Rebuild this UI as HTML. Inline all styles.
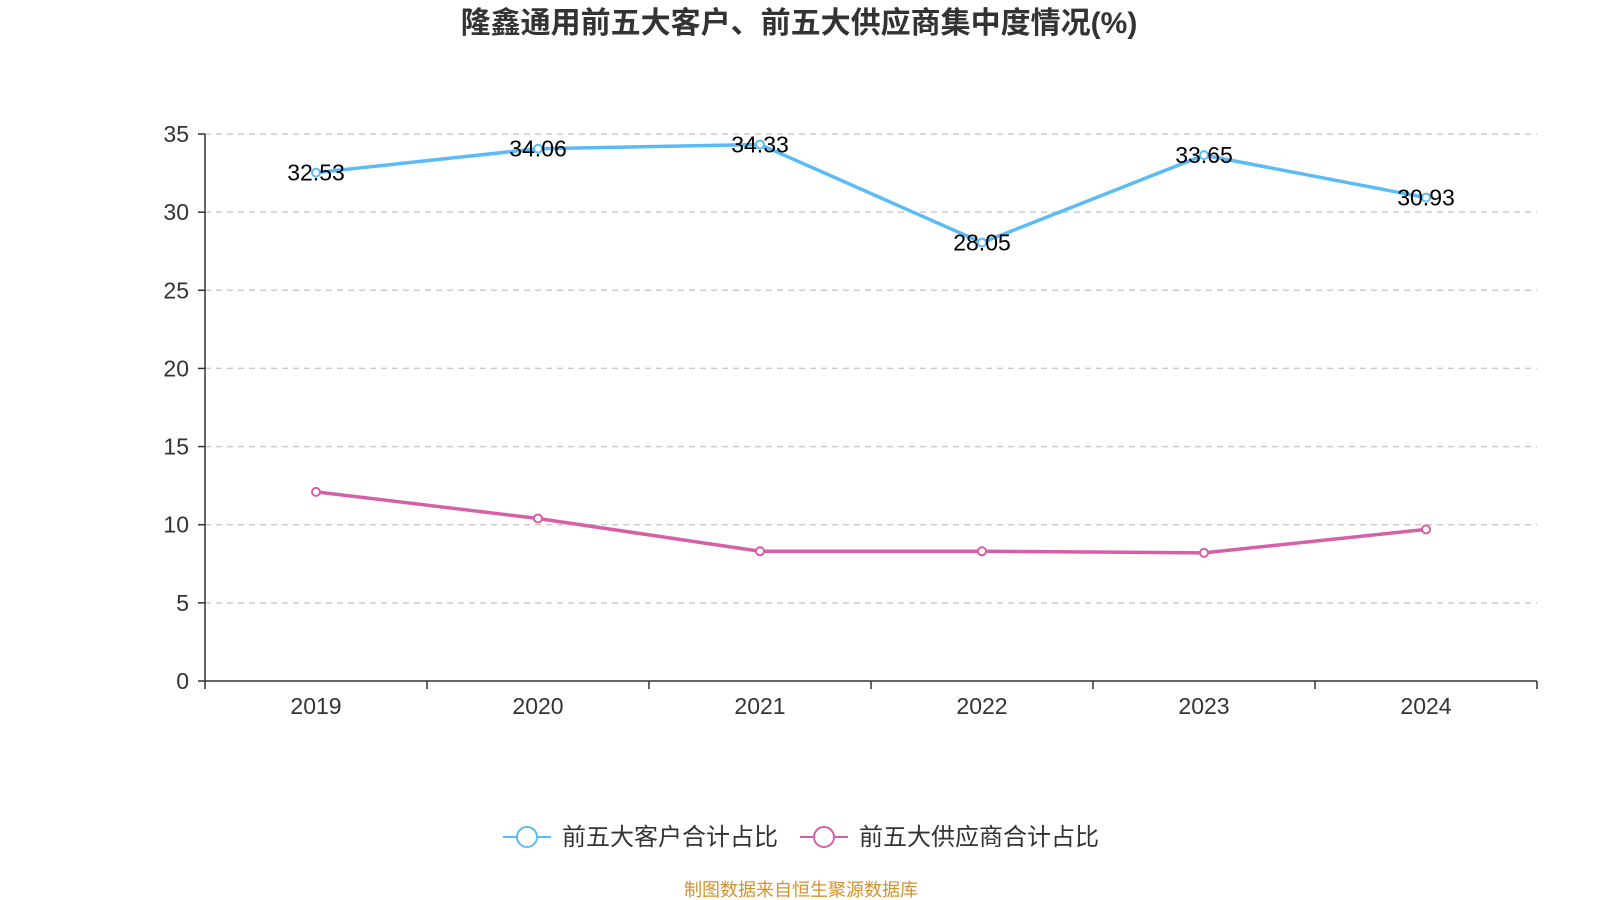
<!DOCTYPE html>
<html><head><meta charset="utf-8"><style>
html,body{margin:0;padding:0;background:#fff;width:1600px;height:900px;overflow:hidden}
svg text{font-family:"Liberation Sans","Noto Sans CJK SC",sans-serif}
</style></head><body>
<svg id="chart" width="1600" height="900" xmlns="http://www.w3.org/2000/svg">
<text x="799" y="33" text-anchor="middle" font-size="30" font-weight="bold" fill="#333">隆鑫通用前五大客户、前五大供应商集中度情况(%)</text>
<g id="grid"></g><g id="axes"></g><g id="series"></g>
<g>
<g>
<line x1="503" y1="837" x2="551" y2="837" stroke="#5bbcf5" stroke-width="2"/>
<circle cx="527" cy="837" r="10" fill="#fff" stroke="#5bbcf5" stroke-width="2"/>
<text x="562" y="845" font-size="24" fill="#333">前五大客户合计占比</text></g>
<g>
<line x1="800" y1="837" x2="848" y2="837" stroke="#d660a8" stroke-width="2"/>
<circle cx="824" cy="837" r="10" fill="#fff" stroke="#d660a8" stroke-width="2"/>
<text x="859" y="845" font-size="24" fill="#333">前五大供应商合计占比</text></g>
</g>
<text x="801" y="896" text-anchor="middle" font-size="18" fill="#d4922a">制图数据来自恒生聚源数据库</text>
</svg>
<script>
const categories=["2019","2020","2021","2022","2023","2024"];
const customerValues=[32.53,34.06,34.33,28.05,33.65,30.93];
const supplierValues=[12.1,10.4,8.3,8.3,8.2,9.7];
const yTicks=[0,5,10,15,20,25,30,35];
const NS="http://www.w3.org/2000/svg";
const X0=205,X1=1537,Y0=681,Y1=134,YMAX=35;
const band=(X1-X0)/categories.length;
const xs=i=>X0+band*(i+0.5);
const ys=v=>Y0-(v/YMAX)*(Y0-Y1);
function mk(p,tag,a){const e=document.createElementNS(NS,tag);for(const k in a)e.setAttribute(k,a[k]);p.appendChild(e);return e;}
const grid=document.getElementById('grid'),axes=document.getElementById('axes'),ser=document.getElementById('series');
yTicks.forEach(t=>{
 if(t>0){const l=mk(grid,'line',{x1:X0,x2:X1,y1:ys(t),y2:ys(t),stroke:'#ccc','stroke-dasharray':'6,5','stroke-width':1.5});
 
 }
 mk(axes,'line',{x1:X0-7,x2:X0,y1:ys(t),y2:ys(t),stroke:'#333','stroke-width':1.5});
 const tx=mk(axes,'text',{x:X0-16,y:ys(t)+8,'text-anchor':'end','font-size':23,fill:'#333'});tx.textContent=t;
 
 
});
mk(axes,'line',{x1:X0,x2:X0,y1:Y1,y2:Y0,stroke:'#333','stroke-width':1.5});
mk(axes,'line',{x1:X0,x2:X1,y1:Y0,y2:Y0,stroke:'#333','stroke-width':1.5});
for(let i=0;i<=categories.length;i++)mk(axes,'line',{x1:X0+band*i,x2:X0+band*i,y1:Y0,y2:Y0+8,stroke:'#333','stroke-width':1.5});
categories.forEach((c,i)=>{const t=mk(axes,'text',{x:xs(i),y:Y0+33,'text-anchor':'middle','font-size':23,fill:'#333'});t.textContent=c;
 
 });
function draw(vals,color,name,labels){
 const pl=mk(ser,'polyline',{points:vals.map((v,i)=>xs(i)+','+ys(v)).join(' '),fill:'none',stroke:color,'stroke-width':3.5});
 
 
 vals.forEach((v,i)=>{const c=mk(ser,'circle',{cx:xs(i),cy:ys(v),r:4,fill:'#fff',stroke:color,'stroke-width':2});
  
  
  if(labels){const t=mk(ser,'text',{x:xs(i),y:ys(v)+8,'text-anchor':'middle','font-size':23,fill:'#000'});t.textContent=v.toFixed(2);
   
   }
 });
}
draw(customerValues,'#5bbcf5','customers',true);
draw(supplierValues,'#d660a8','suppliers',false);
</script>
</body></html>
